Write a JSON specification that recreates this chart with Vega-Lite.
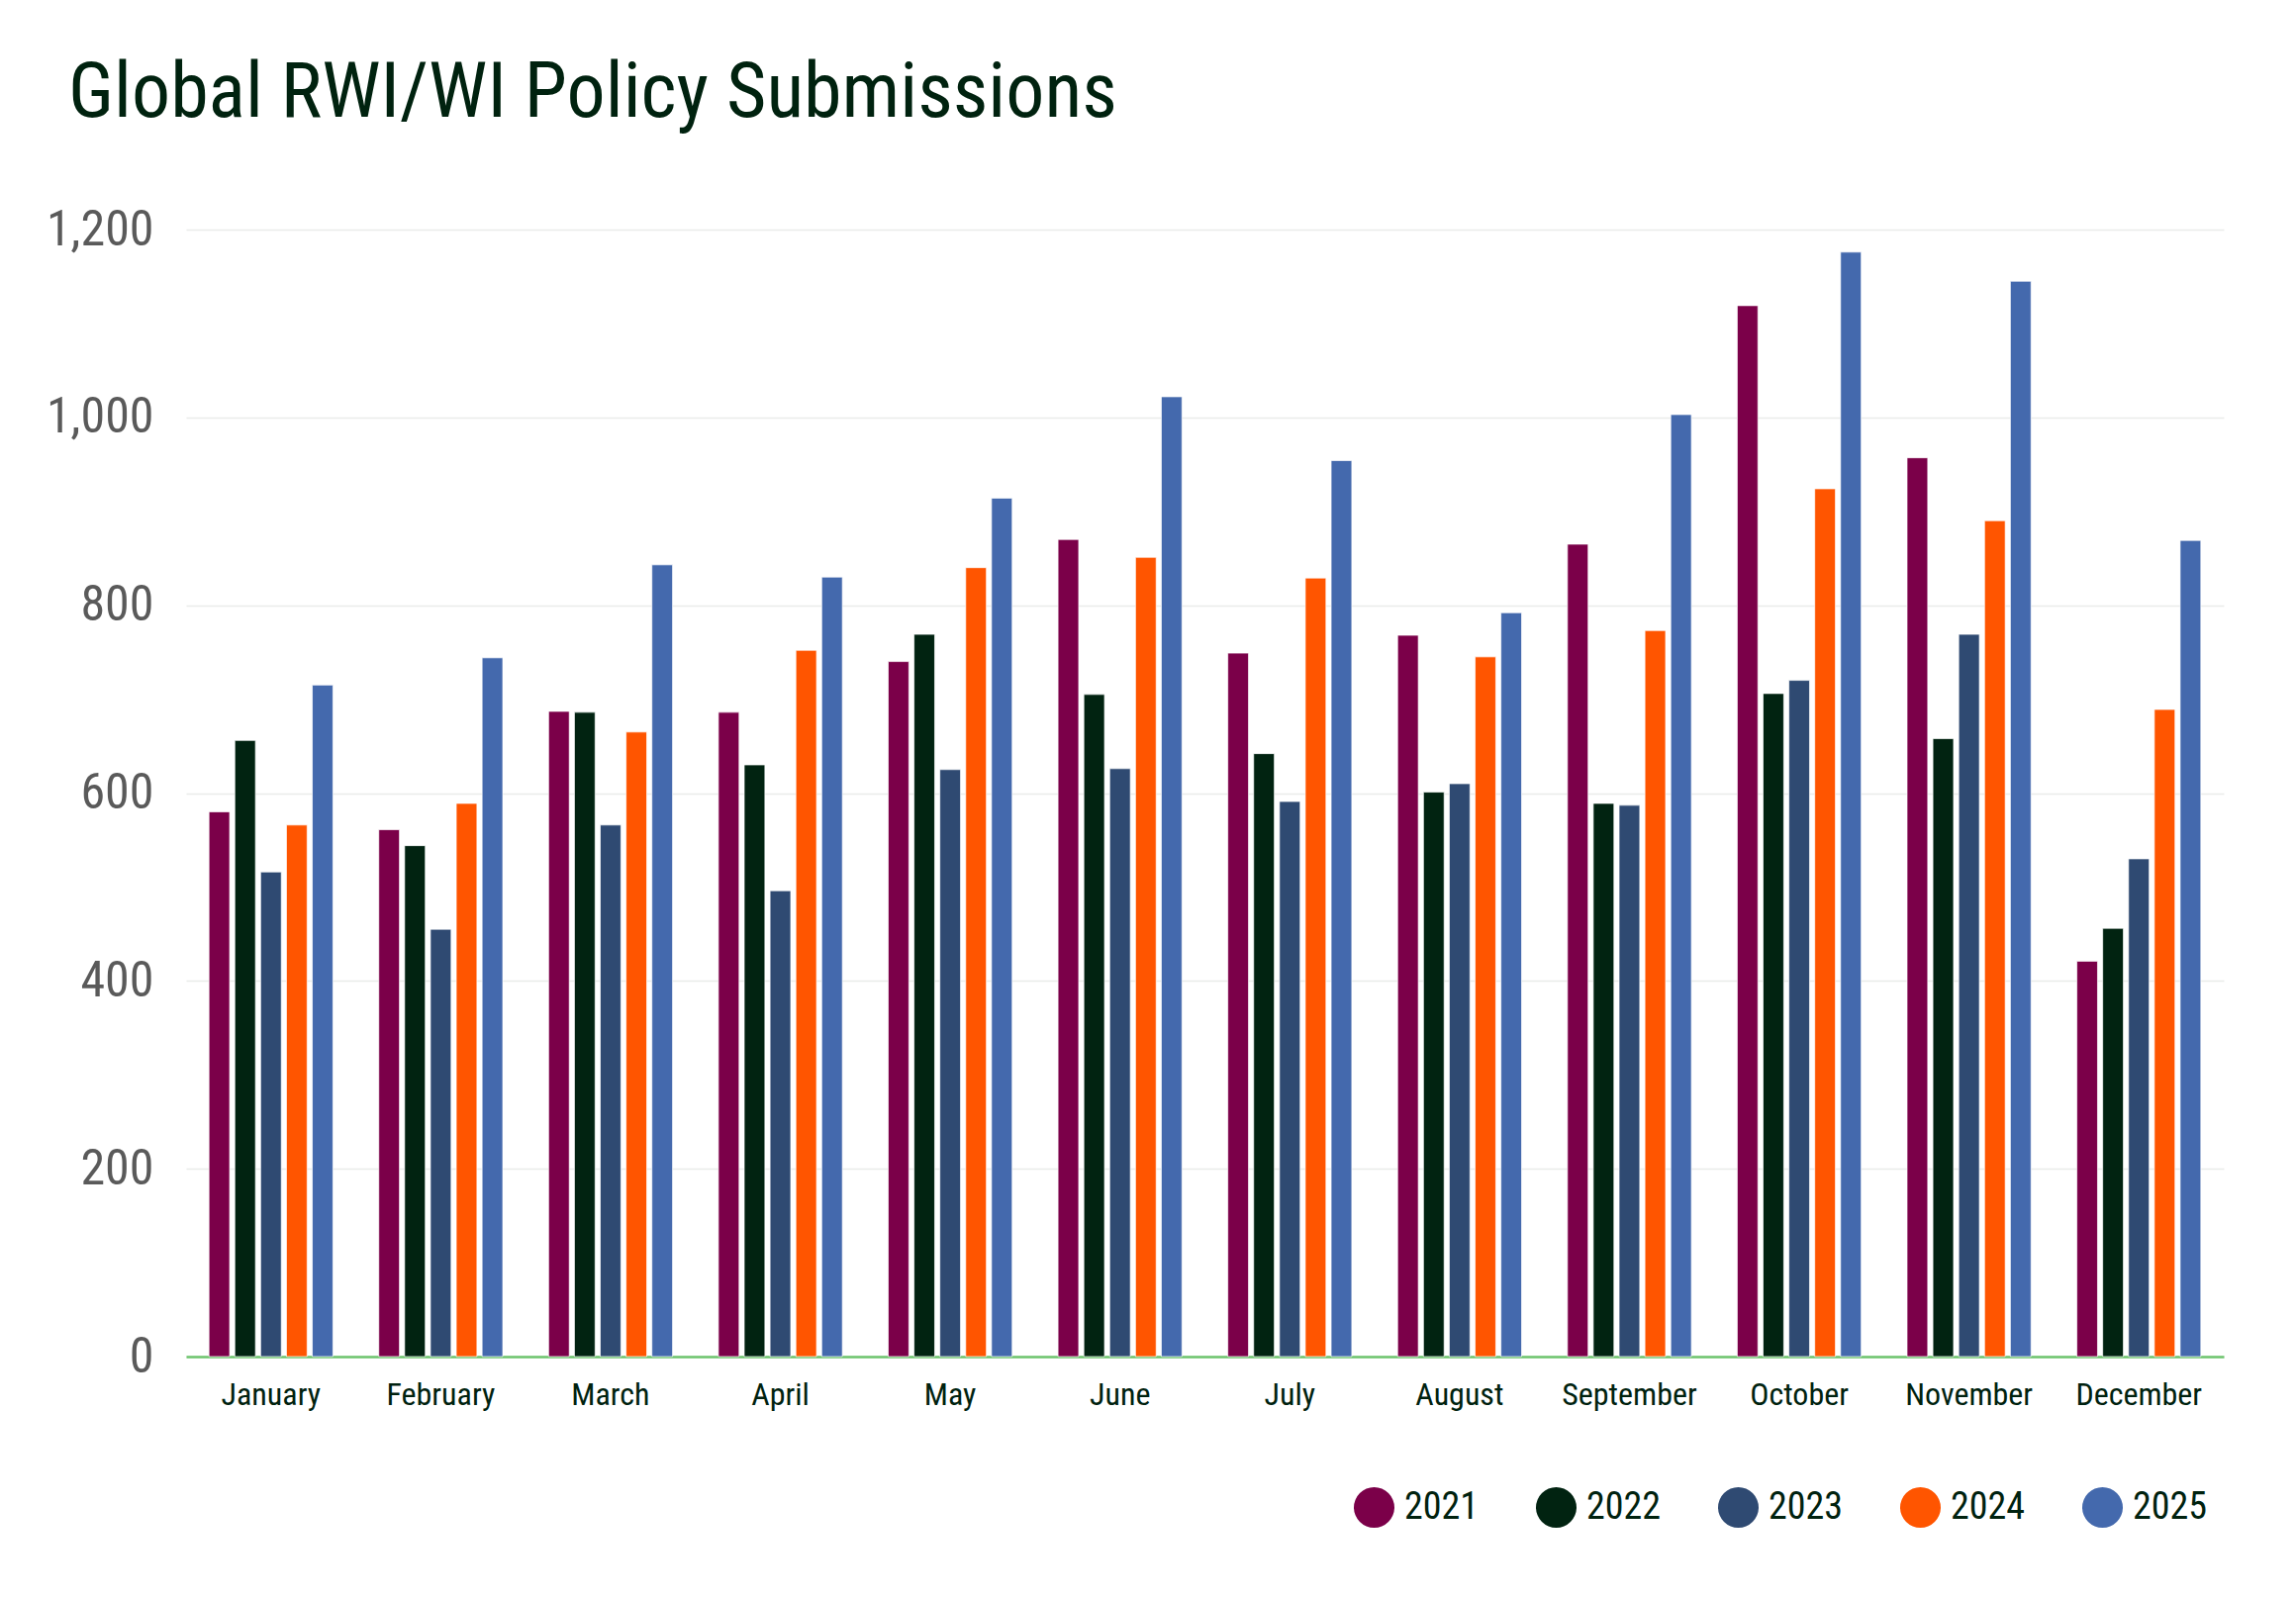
{
  "$schema": "https://vega.github.io/schema/vega-lite/v6.json",
  "width": 2059,
  "height": 1139,
  "autosize": {"type": "none"},
  "padding": {"left": 188, "top": 232, "right": 73, "bottom": 245},
  "background": "#ffffff",
  "title": {
    "text": "Global RWI/WI Policy Submissions",
    "anchor": "start",
    "frame": "group",
    "font": "Roboto Condensed, DejaVu Sans Condensed, sans-serif",
    "fontSize": 78,
    "fontWeight": "normal",
    "color": "#00220F",
    "baseline": "alphabetic",
    "dx": -119,
    "offset": 11
  },
  "config": {
    "view": {"stroke": null},
    "font": "Roboto Condensed, DejaVu Sans Condensed, sans-serif"
  },
  "data": {
    "values": [
      {"month": "January", "year": "2021", "value": 580},
      {"month": "January", "year": "2022", "value": 656},
      {"month": "January", "year": "2023", "value": 516},
      {"month": "January", "year": "2024", "value": 566},
      {"month": "January", "year": "2025", "value": 715},
      {"month": "February", "year": "2021", "value": 561},
      {"month": "February", "year": "2022", "value": 544},
      {"month": "February", "year": "2023", "value": 455},
      {"month": "February", "year": "2024", "value": 589},
      {"month": "February", "year": "2025", "value": 744},
      {"month": "March", "year": "2021", "value": 687},
      {"month": "March", "year": "2022", "value": 686},
      {"month": "March", "year": "2023", "value": 566},
      {"month": "March", "year": "2024", "value": 665},
      {"month": "March", "year": "2025", "value": 843},
      {"month": "April", "year": "2021", "value": 686},
      {"month": "April", "year": "2022", "value": 630},
      {"month": "April", "year": "2023", "value": 496},
      {"month": "April", "year": "2024", "value": 752},
      {"month": "April", "year": "2025", "value": 830},
      {"month": "May", "year": "2021", "value": 740},
      {"month": "May", "year": "2022", "value": 769},
      {"month": "May", "year": "2023", "value": 625},
      {"month": "May", "year": "2024", "value": 840},
      {"month": "May", "year": "2025", "value": 914},
      {"month": "June", "year": "2021", "value": 870},
      {"month": "June", "year": "2022", "value": 705},
      {"month": "June", "year": "2023", "value": 626},
      {"month": "June", "year": "2024", "value": 851},
      {"month": "June", "year": "2025", "value": 1022},
      {"month": "July", "year": "2021", "value": 749},
      {"month": "July", "year": "2022", "value": 642},
      {"month": "July", "year": "2023", "value": 591},
      {"month": "July", "year": "2024", "value": 829},
      {"month": "July", "year": "2025", "value": 954},
      {"month": "August", "year": "2021", "value": 768},
      {"month": "August", "year": "2022", "value": 601},
      {"month": "August", "year": "2023", "value": 610},
      {"month": "August", "year": "2024", "value": 745},
      {"month": "August", "year": "2025", "value": 792},
      {"month": "September", "year": "2021", "value": 865},
      {"month": "September", "year": "2022", "value": 589},
      {"month": "September", "year": "2023", "value": 587},
      {"month": "September", "year": "2024", "value": 773},
      {"month": "September", "year": "2025", "value": 1003},
      {"month": "October", "year": "2021", "value": 1119},
      {"month": "October", "year": "2022", "value": 706},
      {"month": "October", "year": "2023", "value": 720},
      {"month": "October", "year": "2024", "value": 924},
      {"month": "October", "year": "2025", "value": 1176},
      {"month": "November", "year": "2021", "value": 957},
      {"month": "November", "year": "2022", "value": 658},
      {"month": "November", "year": "2023", "value": 769},
      {"month": "November", "year": "2024", "value": 890},
      {"month": "November", "year": "2025", "value": 1145},
      {"month": "December", "year": "2021", "value": 421},
      {"month": "December", "year": "2022", "value": 456},
      {"month": "December", "year": "2023", "value": 530},
      {"month": "December", "year": "2024", "value": 689},
      {"month": "December", "year": "2025", "value": 869}
    ]
  },
  "mark": {"type": "bar", "stroke": "#ffffff", "strokeWidth": 1, "strokeOpacity": 0.7},
  "encoding": {
    "x": {
      "field": "month",
      "type": "nominal",
      "sort": ["January", "February", "March", "April", "May", "June", "July", "August", "September", "October", "November", "December"],
      "scale": {"paddingInner": 0.27, "paddingOuter": 0.135},
      "axis": {
        "title": null,
        "labelAngle": 0,
        "labelFontSize": 32,
        "labelColor": "#00220F",
        "labelPadding": 23,
        "ticks": false,
        "domain": true,
        "domainColor": "#6CC46C",
        "domainWidth": 2.5,
        "grid": false
      }
    },
    "xOffset": {
      "field": "year",
      "type": "nominal",
      "scale": {"paddingInner": 0.2, "paddingOuter": 0}
    },
    "y": {
      "field": "value",
      "type": "quantitative",
      "scale": {"domain": [0, 1200], "nice": false},
      "axis": {
        "title": null,
        "values": [0, 200, 400, 600, 800, 1000, 1200],
        "format": ",.0f",
        "labelFontSize": 50,
        "labelColor": "#5A5A5A",
        "labelPadding": 33,
        "ticks": false,
        "domain": false,
        "grid": true,
        "gridColor": "#E9ECE9",
        "gridWidth": 1.5
      }
    },
    "color": {
      "field": "year",
      "type": "nominal",
      "scale": {
        "domain": ["2021", "2022", "2023", "2024", "2025"],
        "range": ["#7B0049", "#012311", "#2F4A72", "#FF5500", "#4469AD"]
      },
      "legend": {
        "title": null,
        "orient": "none",
        "legendX": 1180,
        "legendY": 1271,
        "direction": "horizontal",
        "symbolType": "circle",
        "symbolSize": 1681,
        "symbolStrokeWidth": 0,
        "labelFontSize": 38,
        "labelColor": "#00220F",
        "labelOffset": 10,
        "columnPadding": 57
      }
    }
  }
}
